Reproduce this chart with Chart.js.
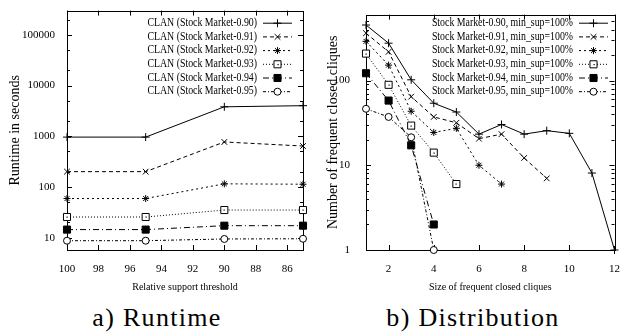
<!DOCTYPE html>
<html lang="en">
<head>
<meta charset="UTF-8" />
<title>CLAN - Runtime and Distribution</title>
<style>
    * { margin: 0; padding: 0; box-sizing: border-box; }
    body {
        width: 625px;
        height: 335px;
        background: #fff;
        position: relative;
        overflow: hidden;
        font-family: "Liberation Serif", "Times New Roman", serif;
        color: #000;
    }
    .panel { position: absolute; top: 0; }
    #runtimePanel { left: 0; }
    #distPanel { left: 310px; }
    .caption {
        position: absolute;
        top: 303px;
        width: 220px;
        font-family: "Liberation Serif", "Times New Roman", serif;
        font-size: 26px;
        line-height: 30px;
        letter-spacing: 1.3px;
        text-align: center;
    }
</style>
</head>
<body>
    <div class="panel" id="runtimePanel"><canvas id="runtimeChart" width="310" height="300"></canvas></div>
    <div class="panel" id="distPanel"><canvas id="distChart" width="315" height="300"></canvas></div>
    <div class="caption" style="left: 47px;">a) Runtime</div>
    <div class="caption" style="left: 363px;">b) Distribution</div>

    <script src="https://cdn.jsdelivr.net/npm/chart.js"></script>
    <script>
        // a) runtime vs relative support threshold
        const supportLevels = [100, 95, 90, 85];
        const runtimeNames = ['CLAN (Stock Market-0.90)', 'CLAN (Stock Market-0.91)', 'CLAN (Stock Market-0.92)',
                              'CLAN (Stock Market-0.93)', 'CLAN (Stock Market-0.94)', 'CLAN (Stock Market-0.95)'];
        const runtime090 = [960, 960, 3800, 4000];
        const runtime091 = [200, 200, 770, 640];
        const runtime092 = [59, 59, 115, 113];
        const runtime093 = [25.5, 25.5, 35, 35];
        const runtime094 = [14.4, 14.4, 17.2, 17.2];
        const runtime095 = [8.7, 8.7, 9.4, 9.5];
        const runtimeXTicks = [100, 98, 96, 94, 92, 90, 88, 86];
        const runtimeYTicks = [10, 100, 1000, 10000, 100000];

        // b) distribution of frequent closed cliques
        const cliqueSizes = [1, 2, 3, 4, 5, 6, 7, 8, 9, 10, 11, 12];
        const distNames = ['Stock Market-0.90, min_sup=100%', 'Stock Market-0.91, min_sup=100%', 'Stock Market-0.92, min_sup=100%',
                           'Stock Market-0.93, min_sup=100%', 'Stock Market-0.94, min_sup=100%', 'Stock Market-0.95, min_sup=100%'];
        const dist090 = [452, 276, 102, 54, 42.5, 23.3, 30.3, 23.3, 25.6, 23.8, 8.1, 1];
        const dist091 = [362, 218, 64.5, 37.2, 31.7, 20.6, 23.3, 12.2, 7];
        const dist092 = [290, 152, 43.4, 24.4, 27.3, 10, 6];
        const dist093 = [208, 89, 29.4, 14.1, 6];
        const dist094 = [122, 58, 17.2, 2];
        const dist095 = [46.4, 37.2, 21.4, 1];
        const distXTicks = [2, 4, 6, 8, 10, 12];
        const distYTicks = [1, 10, 100];

        // gnuplot-like line types, one per series
        const lineTypes = [
            { dash: [], point: 'cross', r: 4, fill: '#000' },
            { dash: [4, 3], point: 'crossRot', r: 4, fill: '#000' },
            { dash: [2, 3], point: 'star', r: 3.5, fill: '#000' },
            { dash: [1, 2], point: 'rect', r: 5, fill: '#fff', dot: true },
            { dash: [6, 3, 1, 3], point: 'rect', r: 5, fill: '#000' },
            { dash: [3, 2, 1, 2], point: 'circle', r: 3.5, fill: '#fff' }
        ];

        function makeSeries(name, xs, ys, i) {
            const lt = lineTypes[i];
            return {
                label: name,
                data: ys.map((v, k) => ({ x: xs[k], y: v })),
                borderColor: '#000',
                borderWidth: 1,
                borderDash: lt.dash,
                pointStyle: lt.point,
                pointRadius: lt.r,
                pointBackgroundColor: lt.fill,
                pointBorderColor: '#000',
                pointBorderWidth: 1,
                fill: false,
                tension: 0,
                clip: false,
                centerDot: !!lt.dot
            };
        }

        // box + inward tick marks like gnuplot
        const framePlugin = {
            id: 'frame',
            beforeDatasetsDraw(chart, args, opts) {
                const { ctx, chartArea: a, scales: { x, y } } = chart;
                ctx.save();
                ctx.strokeStyle = '#000';
                ctx.lineWidth = 1;
                ctx.setLineDash([]);
                ctx.beginPath();
                x.ticks.forEach(t => {
                    const px = Math.round(x.getPixelForValue(t.value)) + 0.5;
                    ctx.moveTo(px, a.bottom); ctx.lineTo(px, a.bottom - 5);
                    ctx.moveTo(px, a.top); ctx.lineTo(px, a.top + 5);
                });
                y.ticks.forEach(t => {
                    const py = Math.round(y.getPixelForValue(t.value)) + 0.5;
                    ctx.moveTo(a.left, py); ctx.lineTo(a.left + 5, py);
                    ctx.moveTo(a.right, py); ctx.lineTo(a.right - 5, py);
                });
                // minor log ticks
                for (let dec = 1; dec <= y.max; dec *= 10) {
                    opts.minor.forEach(m => {
                        const v = dec * m;
                        if (v < y.min || v > y.max) return;
                        const py = Math.round(y.getPixelForValue(v)) + 0.5;
                        ctx.moveTo(a.left, py); ctx.lineTo(a.left + 3, py);
                        ctx.moveTo(a.right, py); ctx.lineTo(a.right - 3, py);
                    });
                }
                ctx.stroke();
                ctx.strokeRect(Math.round(a.left) + 0.5, Math.round(a.top) + 0.5,
                               Math.round(a.right - a.left), Math.round(a.bottom - a.top));
                ctx.restore();
            }
        };

        // key inside the plot, text right-aligned then a line sample
        const keyPlugin = {
            id: 'key',
            afterDatasetsDraw(chart, args, opts) {
                const ctx = chart.ctx;
                ctx.save();
                // little dot in the open squares, as gnuplot does
                chart.data.datasets.forEach((ds, i) => {
                    if (!ds.centerDot) return;
                    ctx.fillStyle = '#000';
                    chart.getDatasetMeta(i).data.forEach(pt => {
                        ctx.fillRect(Math.round(pt.x) - 0.5, Math.round(pt.y) - 0.5, 1.2, 1.2);
                    });
                });
                chart.data.datasets.forEach((ds, i) => {
                    const yy = opts.top + i * opts.step;
                    ctx.save();
                    ctx.translate(opts.textRight, yy);
                    ctx.scale(0.82, 1);
                    ctx.font = '12px "Liberation Serif"';
                    ctx.fillStyle = '#000';
                    ctx.textAlign = 'right';
                    ctx.textBaseline = 'middle';
                    ctx.fillText(ds.label, 0, 0);
                    ctx.restore();

                    const cx = (opts.lineLeft + opts.lineRight) / 2;
                    ctx.strokeStyle = '#000';
                    ctx.lineWidth = 1;
                    ctx.setLineDash(ds.borderDash);
                    ctx.beginPath();
                    ctx.moveTo(opts.lineLeft, yy + 0.5);
                    ctx.lineTo(opts.lineRight, yy + 0.5);
                    ctx.stroke();
                    ctx.setLineDash([]);
                    ctx.fillStyle = ds.pointBackgroundColor;
                    Chart.helpers.drawPoint(ctx, { pointStyle: ds.pointStyle, radius: ds.pointRadius, rotation: 0, borderWidth: 1 },
                                            cx, yy + 0.5);
                    if (ds.centerDot) {
                        ctx.fillStyle = '#000';
                        ctx.fillRect(Math.round(cx) - 0.5, Math.round(yy), 1.2, 1.2);
                    }
                });
                ctx.restore();
            }
        };

        const tickFont = { family: '"Liberation Serif"', size: 11 };
        const xTitleFont = { family: '"Liberation Serif"', size: 10 };
        const yTitleFont = { family: '"Liberation Serif"', size: 14 };

        function axisOptions(cfg) {
            return {
                x: {
                    type: 'linear',
                    reverse: cfg.reverse,
                    min: cfg.xMin,
                    max: cfg.xMax,
                    afterBuildTicks: s => { s.ticks = cfg.xTicks.map(v => ({ value: v })); },
                    afterFit: s => { s.height = 50; },
                    grid: { display: false },
                    border: { display: false },
                    ticks: { font: tickFont, color: '#000', padding: 5, maxRotation: 0, autoSkip: false },
                    title: { display: true, text: cfg.xTitle, font: xTitleFont, color: '#000', padding: { top: 0, bottom: 7 } }
                },
                y: {
                    type: 'logarithmic',
                    min: cfg.yMin,
                    max: cfg.yMax,
                    afterBuildTicks: s => { s.ticks = cfg.yTicks.map(v => ({ value: v })); },
                    afterFit: s => { s.width = cfg.yWidth; },
                    grid: { display: false },
                    border: { display: false },
                    ticks: { font: tickFont, color: '#000', padding: cfg.yPad, autoSkip: false, callback: v => String(v) },
                    title: { display: true, text: cfg.yTitle, font: yTitleFont, color: '#000', padding: { top: cfg.yTitlePad, bottom: 0 } }
                }
            };
        }

        new Chart(document.getElementById('runtimeChart'), {
            type: 'line',
            data: {
                datasets: [runtime090, runtime091, runtime092, runtime093, runtime094, runtime095]
                    .map((ys, i) => makeSeries(runtimeNames[i], supportLevels, ys, i))
            },
            options: {
                responsive: false,
                animation: false,
                layout: { padding: { top: 8, right: 7, left: 0, bottom: 0 } },
                plugins: {
                    legend: { display: false },
                    tooltip: { enabled: false },
                    frame: { minor: [2, 5] },
                    key: { textRight: 257, lineLeft: 263, lineRight: 292, top: 22.7, step: 13.7 }
                },
                scales: axisOptions({
                    reverse: true, xMin: 85, xMax: 100, xTicks: runtimeXTicks,
                    yMin: 5.7, yMax: 300000, yTicks: runtimeYTicks,
                    yWidth: 67, yPad: 4, yTitlePad: 6.5,
                    xTitle: 'Relative support threshold', yTitle: 'Runtime in seconds'
                })
            },
            plugins: [framePlugin, keyPlugin]
        });

        new Chart(document.getElementById('distChart'), {
            type: 'line',
            data: {
                datasets: [dist090, dist091, dist092, dist093, dist094, dist095]
                    .map((ys, i) => makeSeries(distNames[i], cliqueSizes, ys, i))
            },
            options: {
                responsive: false,
                animation: false,
                layout: { padding: { top: 8, right: 6, left: 0, bottom: 0 } },
                plugins: {
                    legend: { display: false },
                    tooltip: { enabled: false },
                    frame: { minor: [2, 3, 4, 5, 6, 7, 8, 9] },
                    key: { textRight: 263, lineLeft: 269, lineRight: 298, top: 22.7, step: 13.7 }
                },
                scales: axisOptions({
                    reverse: false, xMin: 1, xMax: 12, xTicks: distXTicks,
                    yMin: 1, yMax: 600, yTicks: distYTicks,
                    yWidth: 56, yPad: 8, yTitlePad: 14.5,
                    xTitle: 'Size of frequent closed cliques', yTitle: 'Number of frequent closed cliques'
                })
            },
            plugins: [framePlugin, keyPlugin]
        });
    </script>
</body>
</html>
